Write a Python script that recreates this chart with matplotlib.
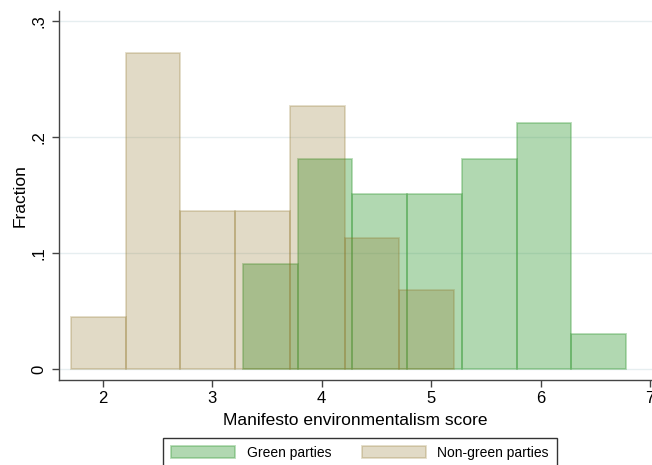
import matplotlib.pyplot as plt
import numpy as np

plt.rcParams['font.family'] = ['Liberation Sans', 'DejaVu Sans']

# histogram bins (left edge, width .5) and fractions
green_edges = [3.28, 3.78, 4.28, 4.78, 5.28, 5.78, 6.28]
green_frac = [0.0909, 0.1818, 0.1515, 0.1515, 0.1818, 0.2121, 0.0303]

other_edges = [1.71, 2.21, 2.71, 3.21, 3.71, 4.21, 4.71]
other_frac = [0.0455, 0.2727, 0.1364, 0.1364, 0.2273, 0.1136, 0.0682]

bin_width = 0.5

xticks = [2, 3, 4, 5, 6, 7]
yticks = [0, 0.1, 0.2, 0.3]
ytick_labels = ['0', '.1', '.2', '.3']

green_rgb = (62/255, 158/255, 62/255)
sand_rgb = (139/255, 111/255, 31/255)

fig = plt.figure(figsize=(6.52, 4.65), dpi=100)
ax = fig.add_axes([59/652, 1 - 380/465, 1 - 59/652, (380 - 11)/465])

# faint horizontal grid
for y in yticks:
    ax.axhline(y, color='#e6eef0', lw=1.0, zorder=0)

ax.bar(green_edges, green_frac, width=bin_width, align='edge',
       facecolor=green_rgb + (0.4,), edgecolor=green_rgb + (0.38,),
       linewidth=1.3, label='Green parties', zorder=2)
ax.bar(other_edges, other_frac, width=bin_width, align='edge',
       facecolor=sand_rgb + (0.25,), edgecolor=sand_rgb + (0.25,),
       linewidth=1.3, label='Non-green parties', zorder=3)

ax.set_xlim(1.601, 7.016)
ax.set_ylim(-0.0092, 0.309)
ax.set_xticks(xticks)
ax.set_yticks(yticks)
ax.set_yticklabels(ytick_labels, rotation=90, va='center')
ax.tick_params(axis='both', labelsize=12, length=5, width=1, color='#444444',
               direction='out')
ax.tick_params(axis='x', pad=3)
ax.tick_params(axis='y', pad=4)

for side in ['top', 'right']:
    ax.spines[side].set_visible(False)
for side in ['left', 'bottom']:
    ax.spines[side].set_color('#444444')
    ax.spines[side].set_linewidth(1.0)

ax.set_xlabel('Manifesto environmentalism score', fontsize=12.5, labelpad=5)
ax.set_ylabel('Fraction', fontsize=12.5, labelpad=3)

leg = fig.legend(loc='upper center', bbox_to_anchor=(360/652, 1 - 438/465),
                 ncol=2, fontsize=10, frameon=True, fancybox=False,
                 edgecolor='black', handlelength=4.6, handleheight=0.95,
                 handletextpad=0.85, columnspacing=2.2, borderpad=0.55,
                 borderaxespad=0)
leg.get_frame().set_linewidth(1.0)

fig.savefig('out.png', dpi=100)
